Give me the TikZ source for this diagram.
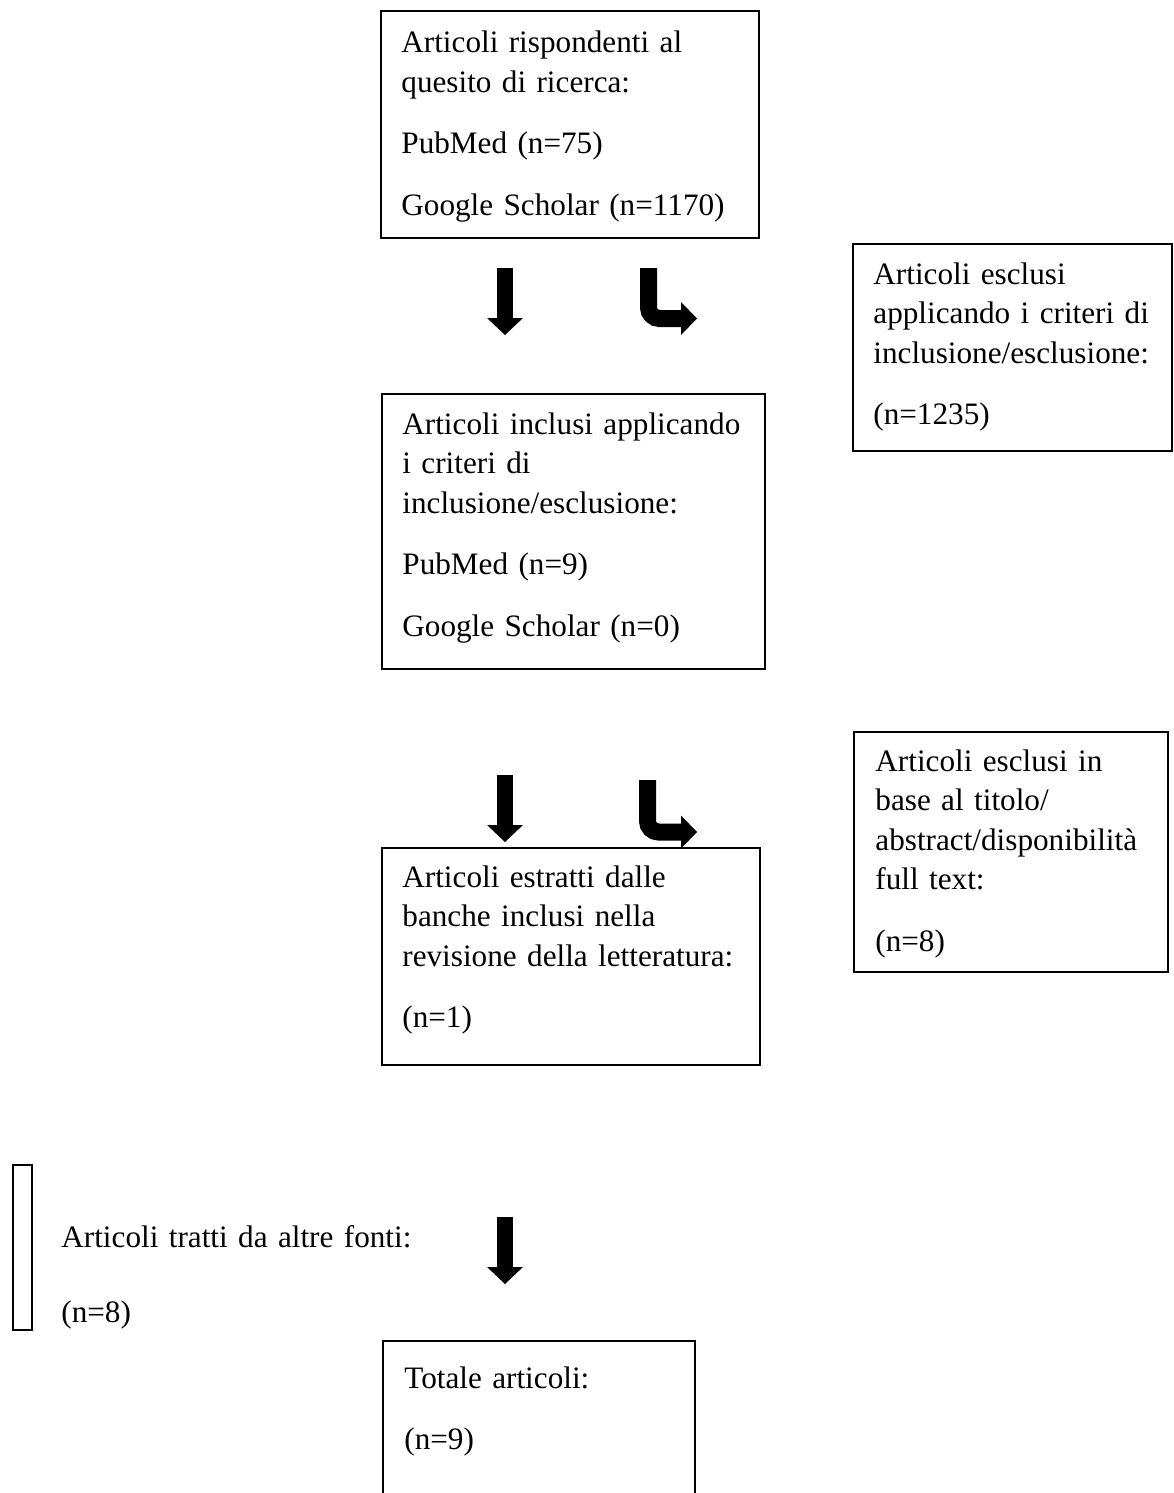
\documentclass[tikz,border=0pt]{standalone}
\usepackage{fontspec}
\setmainfont{Liberation Serif}
\usepackage{tikz}
\usetikzlibrary{arrows.meta}
\newcommand{\pgap}{\\[11pt]}

\begin{document}
\begin{tikzpicture}[
  x=0.5pt, y=-0.5pt,
  frame/.style={draw, line width=1pt, inner sep=0pt, anchor=north west},
  boxtext/.style={anchor=base west, inner sep=0pt, text width=300pt, align=left,
                  font=\fontsize{15.6}{19.75}\selectfont},
  down/.style={line width=8pt, -{Triangle[length=8.5pt, width=18pt, line width=0pt]}},
  turn/.style={line width=8.5pt, rounded corners=5.5pt,
               -{Triangle[length=8pt, width=16.5pt, line width=0pt]}},
]
\useasboundingbox (0,0) rectangle (1173,1493);

% ── Boxes ────────────────────────────────────────────────────────────────────
\node[frame, minimum width=189pt,   minimum height=113.5pt] (src)   at (380,10)   {};
\node[frame, minimum width=159.5pt, minimum height=103.5pt] (excl1) at (852,243)  {};
\node[frame, minimum width=191.5pt, minimum height=137.5pt] (incl)  at (381,393)  {};
\node[frame, minimum width=157pt,   minimum height=120pt]   (excl2) at (853,731)  {};
\node[frame, minimum width=189pt,   minimum height=108.5pt] (estr)  at (381,847)  {};
\node[frame, minimum width=9.5pt,   minimum height=82.5pt]  (altre) at (12,1164)  {};
\node[frame, minimum width=156pt,   minimum height=95pt]    (tot)   at (382,1340) {};

% ── Texts ────────────────────────────────────────────────────────────────────
\node[boxtext] (srctxt) at (401,53) {Articoli rispondenti al\\quesito di ricerca:\pgap
  PubMed (n=75)\pgap Google Scholar (n=1170)};
\node[boxtext] (excl1txt) at (873,284) {Articoli esclusi\\applicando i criteri di\\
  inclusione/esclusione:\pgap (n=1235)};
\node[boxtext] (incltxt) at (402,434) {Articoli inclusi applicando\\i criteri di\\
  inclusione/esclusione:\pgap PubMed (n=9)\pgap Google Scholar (n=0)};
\node[boxtext] (excl2txt) at (875,771) {Articoli esclusi in\\base al titolo/\\
  abstract/disponibilità\\full text:\pgap (n=8)};
\node[boxtext] (estrtxt) at (402,887) {Articoli estratti dalle\\banche inclusi nella\\
  revisione della letteratura:\pgap (n=1)};
\node[boxtext] (altretxt) at (61,1247) {Articoli tratti da altre fonti:\\[18pt] (n=8)};
\node[boxtext] (tottxt) at (404,1388) {Totale articoli:\pgap (n=9)};

% ── Block arrows ─────────────────────────────────────────────────────────────
\coordinate (d1s) at (505,268);    \coordinate (d1e) at (505,335);
\coordinate (t1s) at (648.5,268);  \coordinate (t1e) at (697,318.5);
\coordinate (d2s) at (505,775);    \coordinate (d2e) at (505,842);
\coordinate (t2s) at (647.5,780);  \coordinate (t2e) at (697,832);
\coordinate (d3s) at (505,1217);   \coordinate (d3e) at (505,1284);

\draw[down] (d1s) -- (d1e);
\draw[turn] (t1s) |- (t1e);
\draw[down] (d2s) -- (d2e);
\draw[turn] (t2s) |- (t2e);
\draw[down] (d3s) -- (d3e);

\end{tikzpicture}
\end{document}
